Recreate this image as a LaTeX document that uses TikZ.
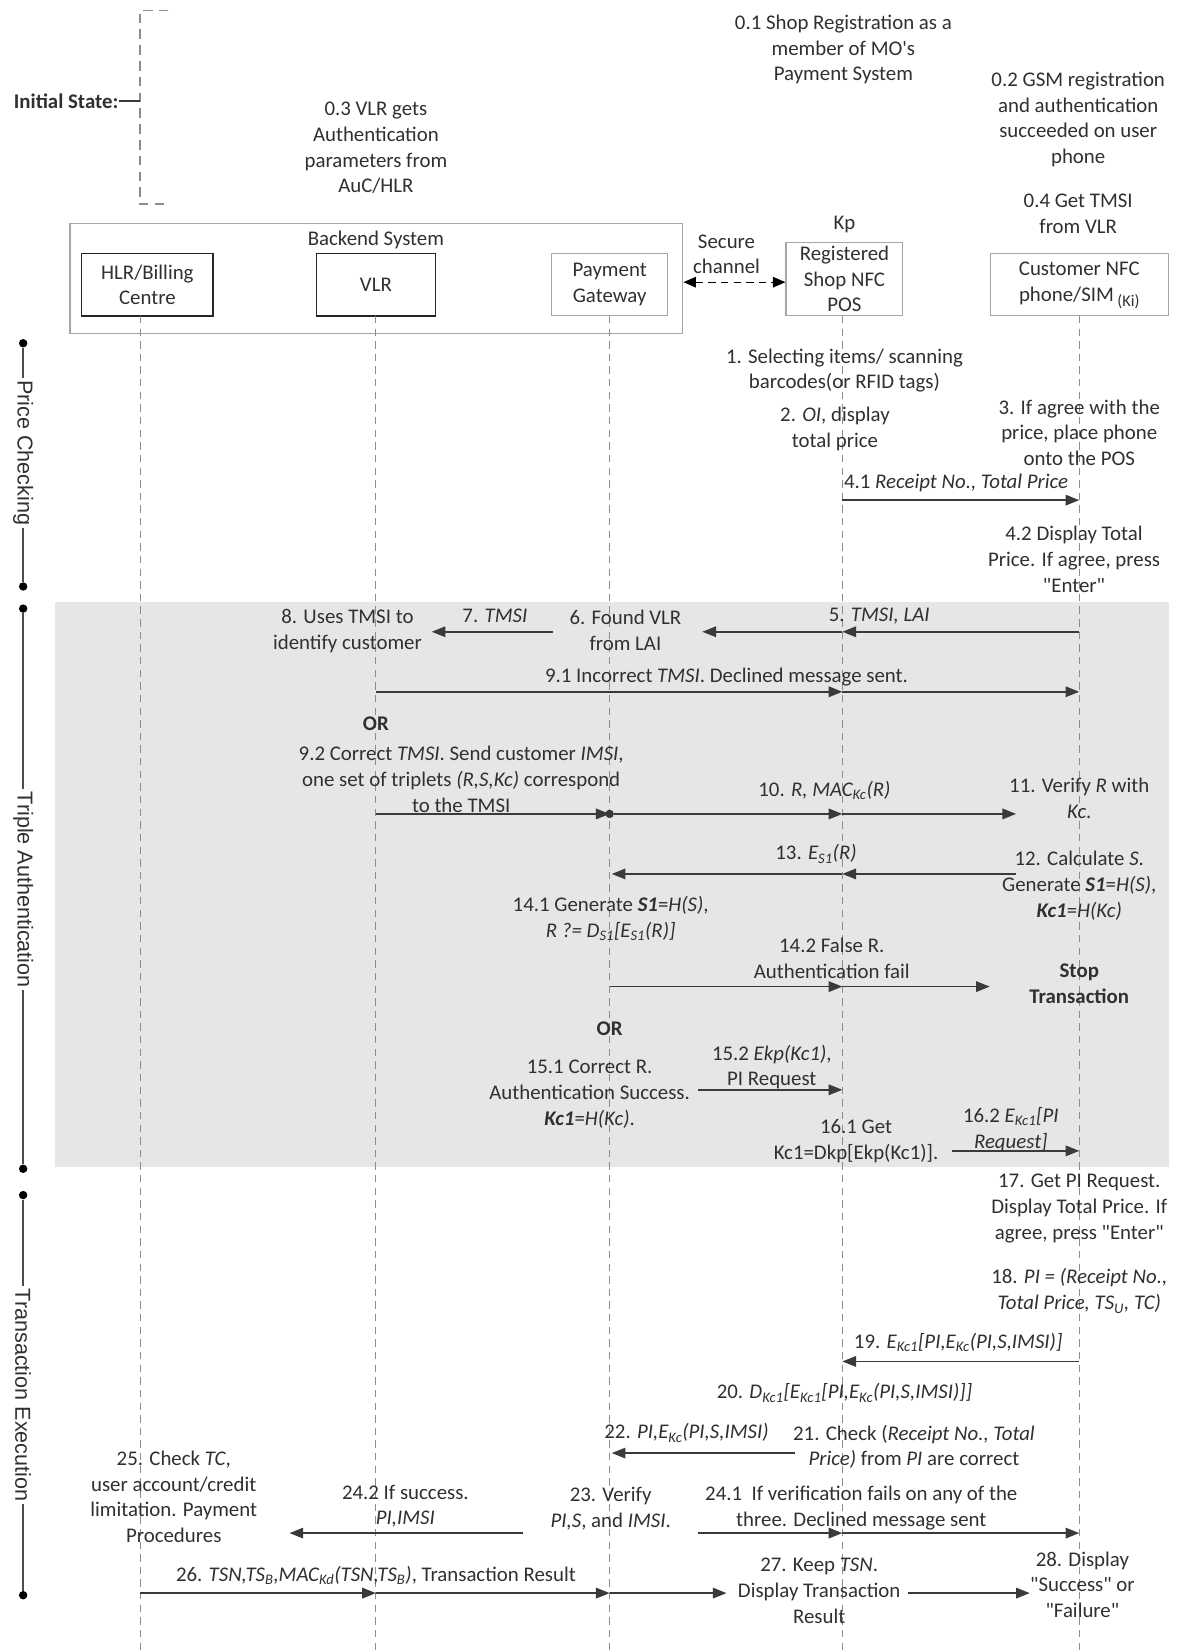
\documentclass[tikz,border=0pt]{standalone}
\usepackage{fontspec}
\setmainfont{Carlito}[Ligatures=TeXOff]
\newfontfamily\phasefont{Liberation Sans}
\usetikzlibrary{arrows.meta}
\newcommand\fsz{\fontsize{19.8}{24.5}\selectfont}
\newcommand\sbs[1]{\textsubscript{#1}}
\definecolor{arrowc}{HTML}{3A3A3A}
\definecolor{lifec}{HTML}{8C8C8C}
\definecolor{boxc}{HTML}{A6A6A6}
\definecolor{bandc}{HTML}{E6E6E6}
\definecolor{txtc}{HTML}{303030}
\begin{document}
\begin{tikzpicture}[x=1pt,y=-1pt,
  txt/.style={align=center,inner sep=0pt,font=\fsz,text=txtc},
  msg/.style={draw=arrowc,line width=1.5pt,-{Triangle[length=13pt,width=10pt]}},
  life/.style={draw=lifec,line width=1pt,dash pattern=on 7pt off 5pt},
  darkbox/.style={draw=black!85,line width=1.4pt,fill=white,align=center,inner sep=0pt,font=\fsz,text=txtc},
  lightbox/.style={draw=boxc,line width=1pt,fill=white,align=center,inner sep=0pt,font=\fsz,text=txtc},
  phase/.style={align=center,inner sep=2pt,font=\phasefont\fontsize{20.5}{24}\selectfont,text=txtc,rotate=-90},
  pdot/.style={circle,fill=black,inner sep=0pt,minimum size=8pt},
  pline/.style={draw=black!70,line width=1.3pt}]
\useasboundingbox (0,0) rectangle (1117,1568);
\fill[white] (0,0) rectangle (1117,1568);
% gray band
\fill[bandc] (52,572) rectangle (1110,1108);
% backend system
\node[lightbox,minimum width=582pt,minimum height=104pt,anchor=north west] (backend) at (66,212) {};
\node[txt] (backendlbl) at (357,228) {Backend System};
% actors
\node[darkbox,minimum width=125pt,minimum height=59pt] (hlr) at (140,270.5) {HLR/Billing\\Centre};
\node[darkbox,minimum width=113pt,minimum height=59pt] (vlr) at (357,270.5) {VLR};
\node[lightbox,minimum width=110pt,minimum height=59pt] (pg) at (579,270.5) {Payment\\Gateway};
\node[lightbox,minimum width=111pt,minimum height=70pt] (pos) at (802,265) {Registered\\Shop NFC\\POS};
\node[lightbox,minimum width=169pt,minimum height=59pt] (cust) at (1025.5,270.5) {};
\node[txt] (custlbl) at (1025,271) {Customer NFC\\phone/SIM\,\raisebox{-0.45ex}{\fontsize{15.5}{15.5}\selectfont(Ki)}};
% lifelines
\coordinate (lhT) at (133,300); \coordinate (lhB) at (133,1568);
\coordinate (lvT) at (357,300); \coordinate (lvB) at (357,1568);
\coordinate (lgT) at (579,300); \coordinate (lgB) at (579,1568);
\coordinate (lpT) at (800,300); \coordinate (lpB) at (800,1568);
\coordinate (lcT) at (1025,300); \coordinate (lcB) at (1025,1568);
\draw[life] (lhT) -- (lhB);
\draw[life] (lvT) -- (lvB);
\draw[life] (lgT) -- (lgB);
\draw[life] (lpT) -- (lpB);
\draw[life] (lcT) -- (lcB);
% secure channel
\draw[draw=black,line width=1.3pt,dash pattern=on 7pt off 5pt,{Triangle[length=12pt,width=10pt]}-{Triangle[length=12pt,width=10pt]}] (backend.east |- 0,268) -- (pos.west |- 0,268);
\node[txt] (sc) at (690,241.5) {Secure\\channel};
\node[txt] (kp) at (802,213) {Kp};
% initial state
\node[txt,font=\fsz\bfseries,anchor=west] (init) at (13,96) {Initial State:};
\coordinate (brT) at (133,10); \coordinate (brB) at (133,194);
\coordinate (brTe) at (160,10); \coordinate (brBe) at (160,194);
\coordinate (brM) at (133,96);
\draw[draw=lifec,line width=1.5pt,dash pattern=on 9pt off 6pt] (brTe) -- (brT) -- (brB) -- (brBe);
\draw[draw=arrowc,line width=1.2pt] (init.east) -- (brM);
% top notes
\node[txt] (t01) at (801,47) {0.1 Shop Registration as a\\member of MO's\\Payment System};
\node[txt] (t02) at (1024,113.5) {0.2 GSM registration\\and authentication\\succeeded on user\\phone};
\node[txt] (t03) at (357,140.5) {0.3 VLR gets\\Authentication\\parameters from\\AuC/HLR};
\node[txt] (t04) at (1024,203) {0.4 Get TMSI\\from VLR};
% phases
\node[pdot] (pcT) at (22,326) {}; \node[pdot] (pcB) at (22,557) {};
\node[phase] (pc) at (22,430) {Price Checking};
\draw[pline] (pcT) -- (pc.west); \draw[pline] (pc.east) -- (pcB);
\node[pdot] (taT) at (22,578) {}; \node[pdot] (taB) at (22,1110) {};
\node[phase] (ta) at (22,845) {Triple Authentication};
\draw[pline] (taT) -- (ta.west); \draw[pline] (ta.east) -- (taB);
\node[pdot] (teT) at (22,1135) {}; \node[pdot] (teB) at (22,1515) {};
\node[phase] (te) at (22,1325) {Transaction Execution};
\draw[pline] (teT) -- (te.west); \draw[pline] (te.east) -- (teB);
% price checking
\node[txt] (p1) at (802,352) {1. Selecting items/ scanning\\barcodes(or RFID tags)};
\node[txt] (p2) at (793,407) {2. \textit{OI}, display\\total price};
\node[txt] (p3) at (1025,411) {3. If agree with the\\price, place phone\\onto the POS};
\node[txt] (l41) at (908,459) {4.1 \textit{Receipt No., Total Price}};
\coordinate (a41a) at (800,475); \coordinate (a41b) at (1025,475);
\draw[msg] (a41a) -- (a41b);
\node[txt] (p42) at (1020,531) {4.2 Display Total\\Price. If agree, press\\"Enter"};
% triple authentication
\node[txt] (l5) at (835,585) {5. \textit{TMSI, LAI}};
\node[txt] (p6) at (594,599) {6. Found VLR\\from LAI};
\coordinate (a5a) at (1025,600); \coordinate (a5b) at (800,600); \coordinate (a5c) at (667,600);
\draw[msg] (a5a) -- (a5b); \draw[msg] (a5b) -- (a5c);
\node[txt] (l7) at (470,585) {7. \textit{TMSI}};
\coordinate (a7a) at (525,600); \coordinate (a7b) at (410,600);
\draw[msg] (a7a) -- (a7b);
\node[txt] (p8) at (330,599) {8. Uses TMSI to\\identify customer};
\node[txt] (l91) at (690,643) {9.1 Incorrect \textit{TMSI}. Declined message sent.};
\coordinate (a91a) at (357,657); \coordinate (a91b) at (800,657); \coordinate (a91c) at (1025,657);
\draw[msg] (a91a) -- (a91b); \draw[msg] (a91b) -- (a91c);
\node[txt,font=\fsz\bfseries] (or1) at (357,687) {OR};
\node[txt] (p92) at (438,740) {9.2 Correct \textit{TMSI}. Send customer \textit{IMSI},\\one set of triplets \textit{(R,S,Kc)} correspond\\to the TMSI};
\coordinate (a92a) at (357,773); \coordinate (a92b) at (579,773);
\draw[msg] (a92a) -- (a92b);
\node[circle,fill=arrowc,inner sep=0pt,minimum size=8pt] (d10) at (579,773) {};
\node[txt] (l10) at (783,751) {10. \textit{R, MAC\sbs{Kc}(R)}};
\coordinate (a10b) at (800,773); \coordinate (a10c) at (965,773);
\draw[msg] (d10) -- (a10b); \draw[msg] (a10b) -- (a10c);
\node[txt] (p11) at (1025,758.5) {11. Verify \textit{R} with\\\textit{Kc}.};
\node[txt] (l13) at (775,811) {13. \textit{E\sbs{S1}(R)}};
\coordinate (a13a) at (965,830); \coordinate (a13b) at (800,830); \coordinate (a13c) at (581,830);
\draw[msg] (a13a) -- (a13b); \draw[msg] (a13b) -- (a13c);
\node[txt] (p12) at (1025,841) {12. Calculate \textit{S}.\\Generate \textbf{\textit{S1}}=\textit{H(S)},\\\textbf{\textit{Kc1}}=\textit{H(Kc)}};
\node[txt] (p141) at (580,872.5) {14.1 Generate \textbf{\textit{S1}}=\textit{H(S)},\\\textit{R ?= D\sbs{S1}[E\sbs{S1}(R)]}};
\node[txt] (l142) at (790,910) {14.2 False R.\\Authentication fail};
\coordinate (a142a) at (579,937); \coordinate (a142b) at (800,937); \coordinate (a142c) at (940,937);
\draw[msg] (a142a) -- (a142b); \draw[msg] (a142b) -- (a142c);
\node[txt,font=\fsz\bfseries] (stop) at (1025,934) {Stop\\Transaction};
\node[txt,font=\fsz\bfseries] (or2) at (579,977) {OR};
\node[txt] (p151) at (560,1039) {15.1 Correct R.\\Authentication Success.\\\textbf{\textit{Kc1}}=\textit{H(Kc)}.};
\node[txt] (l152) at (733,1013.5) {15.2 \textit{Ekp(Kc1)},\\PI Request};
\coordinate (a152a) at (663,1035); \coordinate (a152b) at (800,1035);
\draw[msg] (a152a) -- (a152b);
\node[txt] (p161) at (813,1084) {16.1 Get\\Kc1=Dkp[Ekp(Kc1)].};
\node[txt] (l162) at (960,1072.5) {16.2 \textit{E\sbs{Kc1}[PI}\\\textit{Request]}};
\coordinate (a162a) at (904,1093); \coordinate (a162b) at (1025,1093);
\draw[msg] (a162a) -- (a162b);
% transaction execution
\node[txt] (p17) at (1025,1148) {17. Get PI Request.\\Display Total Price. If\\agree, press "Enter"};
\node[txt] (p18) at (1025,1226) {18. \textit{PI = (Receipt No.,}\\\textit{Total Price, TS\sbs{U}, TC)}};
\node[txt] (l19) at (910,1275) {19. \textit{E\sbs{Kc1}[PI,E\sbs{Kc}(PI,S,IMSI)]}};
\coordinate (a19a) at (1025,1293); \coordinate (a19b) at (800,1293);
\draw[msg] (a19a) -- (a19b);
\node[txt] (p20) at (802,1323) {20. \textit{D\sbs{Kc1}[E\sbs{Kc1}[PI,E\sbs{Kc}(PI,S,IMSI)]]}};
\node[txt] (p21) at (868,1374) {21. Check (\textit{Receipt No., Total}\\\textit{Price)} from \textit{PI} are correct};
\node[txt] (l22) at (652,1361) {22. \textit{PI,E\sbs{Kc}(PI,S,IMSI)}};
\coordinate (a22a) at (755,1380); \coordinate (a22b) at (581,1380);
\draw[msg] (a22a) -- (a22b);
\node[txt] (p23) at (580,1432.5) {23. Verify\\\textit{PI,S}, and \textit{IMSI}.};
\node[txt] (l242) at (385,1430.5) {24.2 If success.\\\textit{PI,IMSI}};
\coordinate (a242a) at (497,1456); \coordinate (a242b) at (275,1456);
\draw[msg] (a242a) -- (a242b);
\node[txt] (p25) at (165,1421.5) {25. Check \textit{TC},\\user account/credit\\limitation. Payment\\Procedures};
\node[txt] (l241) at (818,1432.5) {24.1\ \ If verification fails on any of the\\three. Declined message sent};
\coordinate (a241a) at (663,1456); \coordinate (a241b) at (800,1456); \coordinate (a241c) at (1025,1456);
\draw[msg] (a241a) -- (a241b); \draw[msg] (a241b) -- (a241c);
\node[txt] (l26) at (357,1496) {26. \textit{TSN,TS\sbs{B},MAC\sbs{Kd}(TSN,TS\sbs{B})}, Transaction Result};
\coordinate (a26a) at (133,1513); \coordinate (a26b) at (357,1513); \coordinate (a26c) at (579,1513); \coordinate (a26d) at (690,1513);
\draw[msg] (a26a) -- (a26b); \draw[msg] (a26b) -- (a26c); \draw[msg] (a26c) -- (a26d);
\node[txt] (p27) at (778,1511) {27. Keep \textit{TSN}.\\Display Transaction\\Result};
\node[txt] (p28) at (1028,1505) {28. Display\\"Success" or\\"Failure"};
\coordinate (a27a) at (862,1513); \coordinate (a27b) at (978,1513);
\draw[msg] (a27a) -- (a27b);
\end{tikzpicture}
\end{document}
